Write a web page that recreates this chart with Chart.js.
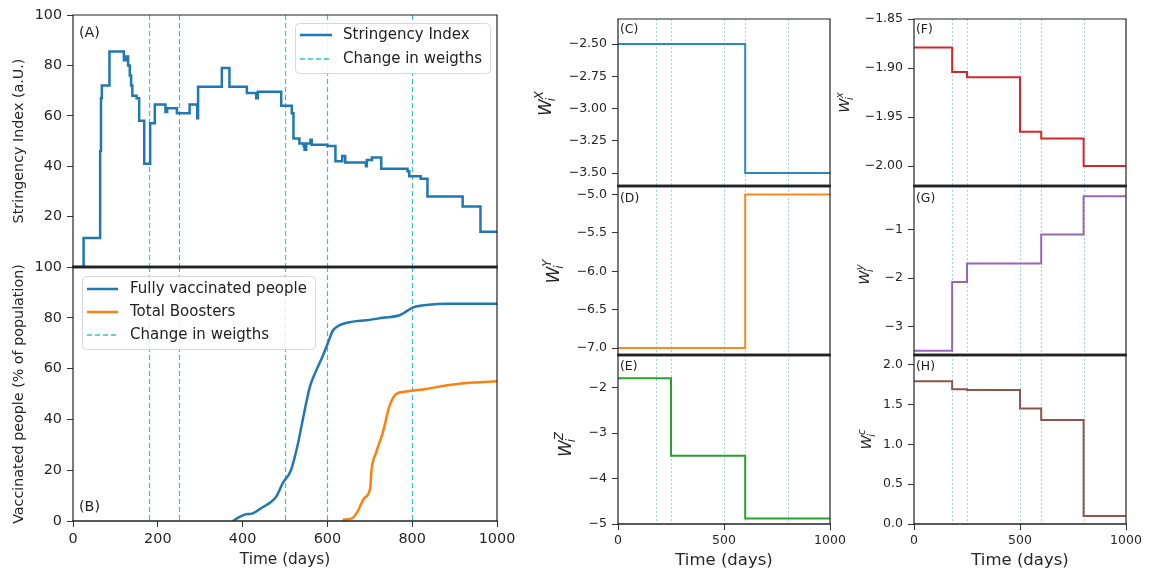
<!DOCTYPE html>
<html>
<head>
<meta charset="utf-8">
<script src="https://cdn.jsdelivr.net/npm/chart.js@4.4.0/dist/chart.umd.min.js"></script>
<style>
  body { margin: 0; background: #fff; width: 1155px; height: 571px; overflow: hidden; position: relative; }
  canvas { position: absolute; }
</style>
</head>
<body>
<canvas id="pA"></canvas>
<canvas id="pB"></canvas>
<canvas id="pC"></canvas>
<canvas id="pD"></canvas>
<canvas id="pE"></canvas>
<canvas id="pF"></canvas>
<canvas id="pG"></canvas>
<canvas id="pH"></canvas>
<script>
// days where the weights change (dashed lines)
const changeDays = [180, 250, 500, 600, 800];

// (A) stringency index, step function: start day of each level and its value
const siDays = [0, 25, 64, 66, 68, 86, 120, 126, 130, 134, 137, 140, 150, 156, 168, 182, 193, 218, 222, 245, 275, 293, 295,
  351, 369, 410, 432, 436, 491, 516, 520, 534, 544, 546, 550, 560, 563, 600, 619, 635, 642, 691, 693, 705, 727, 789, 793,
  820, 836, 919, 961, 1000];
const siVals = [0, 11.5, 46, 67, 72, 85.5, 82, 83.5, 80, 76, 72, 68, 67, 58, 41, 57, 64.5, 61.5, 63, 61, 64.5, 59, 71.5,
  79, 71.5, 69, 67, 69.5, 64, 61, 51, 49, 48, 46.5, 49, 50.5, 48.5, 48, 42, 44, 41.5, 40, 42.5, 43.5, 39, 38, 36,
  35, 28, 24, 14, 14];

// (B) vaccination, % of population
const vaxDays = [377, 392, 405, 424, 448, 467, 479, 495, 514, 530, 542, 559, 573, 589, 601, 613, 628, 660, 691, 731, 770, 786, 801, 833, 888, 1000];
const vaxVals = [0, 1.5, 2.5, 3, 5.5, 7.5, 9.5, 15, 20, 30, 40, 53, 59, 65, 70, 75, 77, 78.5, 79, 80, 81, 82.5, 84, 85, 85.5, 85.5];
const boostDays = [636, 658, 672, 687, 701, 704, 715, 731, 746, 762, 786, 833, 888, 943, 1000];
const boostVals = [0.5, 1, 4, 9, 13, 20, 27, 35, 45, 50, 51, 52, 53.5, 54.5, 55];

// (C)-(H) weights, one value per period between weight changes
const segDays = [0, 180, 250, 500, 600, 800, 1000];
const wXc = [-2.5, -2.5, -2.5, -2.5, -3.5, -3.5];
const wYc = [-7, -7, -7, -7, -5, -5];
const wZc = [-1.79, -1.79, -3.5, -3.5, -4.88, -4.88];
const wx = [-1.879, -1.904, -1.9095, -1.965, -1.972, -2.0];
const wy = [-3.5, -2.08, -1.70, -1.70, -1.10, -0.31];
const wc = [1.79, 1.69, 1.68, 1.45, 1.305, 0.10];

// tick values
const ticksAB = [0, 200, 400, 600, 800, 1000];
const ticksW = [0, 500, 1000];
const ticksA = [20, 40, 60, 80, 100];
const ticksB = [0, 20, 40, 60, 80, 100];
const ticksC = [-3.5, -3.25, -3.0, -2.75, -2.5];
const ticksD = [-7.0, -6.5, -6.0, -5.5, -5.0];
const ticksE = [-5, -4, -3, -2];
const ticksF = [-2.0, -1.95, -1.9, -1.85];
const ticksG = [-3, -2, -1];
const ticksH = [0, 0.5, 1.0, 1.5, 2.0];

const FONT = '"DejaVu Sans", sans-serif';
Chart.defaults.font.family = FONT;
Chart.defaults.color = '#262626';

const fmt = d => v => (v < 0 ? '\u2212' : '') + Math.abs(v).toFixed(d);
const pts = (xs, ys) => xs.map((x, i) => ({ x: x, y: ys[Math.min(i, ys.length - 1)] }));

const vlinesPlugin = {
  id: 'vlines',
  beforeDatasetsDraw(chart, args, o) {
    const { ctx, chartArea: a, scales: { x } } = chart;
    ctx.save();
    ctx.strokeStyle = o.color;
    ctx.lineWidth = o.width;
    ctx.setLineDash(o.dash);
    changeDays.forEach(d => {
      const px = Math.round(x.getPixelForValue(d)) + 0.5;
      ctx.beginPath();
      ctx.moveTo(px, a.top);
      ctx.lineTo(px, a.bottom);
      ctx.stroke();
    });
    ctx.restore();
  }
};

const framePlugin = {
  id: 'frame',
  afterDatasetsDraw(chart, args, o) {
    const { ctx, chartArea: a } = chart;
    ctx.save();
    ctx.strokeStyle = '#222';
    const edge = (w, x0, y0, x1, y1) => {
      ctx.lineWidth = w;
      ctx.beginPath(); ctx.moveTo(x0, y0); ctx.lineTo(x1, y1); ctx.stroke();
    };
    edge(1.2, a.left, a.top, a.left, a.bottom);
    edge(1.2, a.right, a.top, a.right, a.bottom);
    edge(o.top, a.left - 0.6, a.top, a.right + 0.6, a.top);
    edge(o.bottom, a.left - 0.6, a.bottom, a.right + 0.6, a.bottom);
    ctx.restore();
  }
};

const decoPlugin = {
  id: 'deco',
  afterDraw(chart, args, o) {
    const { ctx, chartArea: a } = chart;
    ctx.save();
    ctx.fillStyle = '#222';
    // panel letter
    ctx.font = o.tagSize + 'px ' + FONT;
    ctx.textBaseline = 'middle';
    ctx.textAlign = 'left';
    const ty = o.tagFromBottom ? a.bottom - o.tagY : a.top + o.tagY;
    ctx.fillText(o.tag, a.left + o.tagX, ty);
    // math y label
    if (o.math) {
      const m = o.math, s = m.size;
      ctx.translate(a.left + m.dx, (a.top + a.bottom) / 2 + m.dy);
      ctx.rotate(-Math.PI / 2);
      ctx.textBaseline = 'alphabetic';
      ctx.font = 'italic ' + s + 'px ' + FONT;
      const wW = ctx.measureText('W').width;
      ctx.font = 'italic ' + (s * 0.7) + 'px ' + FONT;
      const wS = Math.max(ctx.measureText(m.sup).width, ctx.measureText('i').width);
      const x0 = -(wW + wS) / 2, base = s * 0.3;
      ctx.font = 'italic ' + s + 'px ' + FONT;
      ctx.fillText('W', x0, base);
      ctx.font = 'italic ' + (s * 0.7) + 'px ' + FONT;
      ctx.fillText(m.sup, x0 + wW, base - s * 0.45);
      ctx.fillText('i', x0 + wW - s * 0.12, base + s * 0.22);
    }
    ctx.restore();
    // legend
    if (o.legend) {
      const L = o.legend;
      ctx.save();
      const bx = a.left + L.x, by = a.top + L.y;
      ctx.fillStyle = 'rgba(255,255,255,0.85)';
      ctx.strokeStyle = '#d8d8d8';
      ctx.lineWidth = 1;
      ctx.beginPath();
      ctx.roundRect(bx + 0.5, by + 0.5, L.w, L.h, 4);
      ctx.fill();
      ctx.stroke();
      ctx.font = L.size + 'px ' + FONT;
      ctx.textBaseline = 'middle';
      L.rows.forEach(r => {
        const ry = a.top + r.y;
        ctx.strokeStyle = r.color;
        ctx.lineWidth = r.width;
        ctx.setLineDash(r.dash);
        ctx.beginPath();
        ctx.moveTo(a.left + L.l0, ry);
        ctx.lineTo(a.left + L.l1, ry);
        ctx.stroke();
        ctx.fillStyle = '#222';
        ctx.fillText(r.text, a.left + L.tx, ry);
      });
      ctx.restore();
    }
  }
};

function panel(id, box, cfg) {
  const cv = document.getElementById(id);
  cv.width = box.w; cv.height = box.h;
  cv.style.left = box.left + 'px'; cv.style.top = box.top + 'px';
  cv.style.width = box.w + 'px'; cv.style.height = box.h + 'px';
  const tickGrid = { drawOnChartArea: false, tickLength: 6, color: '#333', lineWidth: 1 };
  const xScale = {
    type: 'linear', min: 0, max: 1000, display: !!cfg.xTitle,
    afterBuildTicks: s => { s.ticks = cfg.xTicks.map(v => ({ value: v })); },
    ticks: { padding: cfg.xPad, maxRotation: 0, autoSkip: false, font: { size: cfg.tickSize }, callback: v => String(v) },
    grid: tickGrid, border: { display: false },
    title: cfg.xTitle ? { display: true, text: 'Time (days)', font: { size: cfg.xTitleSize }, padding: { top: 0, bottom: cfg.xTitlePad } } : { display: false },
    afterFit: s => { s.height = cfg.xH || 0; }
  };
  const yScale = {
    type: 'linear', min: cfg.yMin, max: cfg.yMax, bounds: 'data',
    afterBuildTicks: s => { s.ticks = cfg.yTicks.map(v => ({ value: v })); },
    ticks: { padding: 5, autoSkip: false, font: { size: cfg.tickSize }, callback: cfg.yFmt },
    grid: tickGrid, border: { display: false },
    title: cfg.yTitle ? { display: true, text: cfg.yTitle, font: { size: 14.3 }, padding: { top: 10.4, bottom: 0 } } : { display: false },
    afterFit: s => { s.width = cfg.yW; }
  };
  return new Chart(cv, {
    type: 'line',
    data: { datasets: cfg.datasets },
    options: {
      responsive: false, animation: false, devicePixelRatio: 1,
      layout: { padding: box.pad },
      elements: { point: { radius: 0 } },
      plugins: {
        legend: { display: false }, tooltip: { enabled: false },
        vlines: cfg.vl, frame: cfg.frame, deco: cfg.deco
      },
      scales: { x: xScale, y: yScale }
    },
    plugins: [vlinesPlugin, framePlugin, decoPlugin]
  });
}

const CYAN = '#33c4cc';
const VL_AB = { color: CYAN, width: 1.2, dash: [5, 3] };
const VL_W = { color: 'rgba(60,175,205,0.5)', width: 1, dash: [2, 2] };
const stepDs = (vals, color) => [{ data: pts(segDays, vals), stepped: true, borderColor: color, borderWidth: 2, fill: false }];

// (A)
panel('pA', { left: 0, top: 0, w: 520, h: 285, pad: { left: 0, top: 15, right: 23, bottom: 18 } }, {
  xTicks: ticksAB, yTicks: ticksA, yMin: 0, yMax: 100, yW: 73, tickSize: 14.3, yFmt: v => String(v),
  yTitle: 'Stringency Index (a.U.)',
  datasets: [{ data: pts(siDays, siVals), stepped: true, borderColor: '#1f77b4', borderWidth: 2.5, fill: false }],
  vl: VL_AB, frame: { top: 1.2, bottom: 2.4 },
  deco: {
    tag: '(A)', tagX: 6, tagY: 18, tagSize: 14.3,
    legend: {
      x: 222, y: 8, w: 195, h: 50, size: 15, l0: 227, l1: 259, tx: 270,
      rows: [
        { y: 20, text: 'Stringency Index', color: '#1f77b4', width: 2.5, dash: [] },
        { y: 44, text: 'Change in weigths', color: CYAN, width: 1.3, dash: [5, 3] }
      ]
    }
  }
});

// (B)
panel('pB', { left: 0, top: 250, w: 520, h: 321, pad: { left: 0, top: 17, right: 23, bottom: 0 } }, {
  xTicks: ticksAB, yTicks: ticksB, yMin: 0, yMax: 100, yW: 73, xH: 50, xPad: 4, tickSize: 14.4, yFmt: v => String(v),
  yTitle: 'Vaccinated people (% of population)', xTitle: true, xTitleSize: 15.3, xTitlePad: 1.8,
  datasets: [
    { data: pts(vaxDays, vaxVals), borderColor: '#1f77b4', borderWidth: 2.5, cubicInterpolationMode: 'monotone', fill: false },
    { data: pts(boostDays, boostVals), borderColor: '#ff7f0e', borderWidth: 2.5, cubicInterpolationMode: 'monotone', fill: false }
  ],
  vl: VL_AB, frame: { top: 2.4, bottom: 1.4 },
  deco: {
    tag: '(B)', tagX: 6, tagY: 14, tagSize: 14.3, tagFromBottom: true,
    legend: {
      x: 9, y: 9, w: 233, h: 73, size: 15, l0: 14, l1: 45, tx: 57,
      rows: [
        { y: 22, text: 'Fully vaccinated people', color: '#1f77b4', width: 2.5, dash: [] },
        { y: 45, text: 'Total Boosters', color: '#ff7f0e', width: 2.5, dash: [] },
        { y: 68, text: 'Change in weigths', color: CYAN, width: 1.3, dash: [5, 3] }
      ]
    }
  }
});

// (C)-(E)
panel('pC', { left: 520, top: 0, w: 330, h: 200, pad: { left: 0, top: 19, right: 20, bottom: 14 } }, {
  xTicks: ticksW, yTicks: ticksC, yMin: -3.60, yMax: -2.306, yW: 98, tickSize: 12.5, yFmt: fmt(2),
  datasets: stepDs(wXc, '#2f86c6'), vl: VL_W, frame: { top: 1.2, bottom: 2.4 },
  deco: { tag: '(C)', tagX: 2, tagY: 11, tagSize: 12.4, math: { sup: 'X', size: 17, dx: -72, dy: 1 } }
});
panel('pD', { left: 520, top: 170, w: 330, h: 200, pad: { left: 0, top: 16, right: 20, bottom: 15 } }, {
  xTicks: ticksW, yTicks: ticksD, yMin: -7.09, yMax: -4.89, yW: 98, tickSize: 12.5, yFmt: fmt(1),
  datasets: stepDs(wYc, '#f58a1f'), vl: VL_W, frame: { top: 2.4, bottom: 2.4 },
  deco: { tag: '(D)', tagX: 2, tagY: 13, tagSize: 12.4, math: { sup: 'Y', size: 17, dx: -64, dy: 1 } }
});
panel('pE', { left: 520, top: 340, w: 330, h: 231, pad: { left: 0, top: 15, right: 20, bottom: 0 } }, {
  xTicks: ticksW, yTicks: ticksE, yMin: -5, yMax: -1.28, yW: 98, xH: 47, xPad: 3, tickSize: 12.5, yFmt: fmt(0),
  xTitle: true, xTitleSize: 16.5, xTitlePad: 0,
  datasets: stepDs(wZc, '#2ca02c'), vl: VL_W, frame: { top: 2.4, bottom: 1.4 },
  deco: { tag: '(E)', tagX: 2, tagY: 12, tagSize: 12.4, math: { sup: 'Z', size: 17, dx: -52, dy: 5 } }
});

// (F)-(H)
panel('pF', { left: 820, top: 0, w: 335, h: 200, pad: { left: 0, top: 19, right: 29, bottom: 14 } }, {
  xTicks: ticksW, yTicks: ticksF, yMin: -2.0204, yMax: -1.85, yW: 94, tickSize: 12.5, yFmt: fmt(2),
  datasets: stepDs(wx, '#d62728'), vl: VL_W, frame: { top: 1.2, bottom: 2.4 },
  deco: { tag: '(F)', tagX: 2, tagY: 11, tagSize: 12.4, math: { sup: 'x', size: 14.5, dx: -69, dy: 0 } }
});
panel('pG', { left: 820, top: 170, w: 335, h: 200, pad: { left: 0, top: 16, right: 29, bottom: 15 } }, {
  xTicks: ticksW, yTicks: ticksG, yMin: -3.59, yMax: -0.10, yW: 94, tickSize: 12.5, yFmt: fmt(0),
  datasets: stepDs(wy, '#9467bd'), vl: VL_W, frame: { top: 2.4, bottom: 2.4 },
  deco: { tag: '(G)', tagX: 2, tagY: 13, tagSize: 12.4, math: { sup: 'y', size: 14.5, dx: -49, dy: 4 } }
});
panel('pH', { left: 820, top: 340, w: 335, h: 231, pad: { left: 0, top: 15, right: 29, bottom: 0 } }, {
  xTicks: ticksW, yTicks: ticksH, yMin: 0, yMax: 2.12, yW: 94, xH: 47, xPad: 3, tickSize: 12.5, yFmt: fmt(1),
  xTitle: true, xTitleSize: 16.5, xTitlePad: 0,
  datasets: stepDs(wc, '#8c564b'), vl: VL_W, frame: { top: 2.4, bottom: 1.4 },
  deco: { tag: '(H)', tagX: 2, tagY: 12, tagSize: 12.4, math: { sup: 'c', size: 14.5, dx: -47, dy: 0 } }
});
</script>
</body>
</html>
